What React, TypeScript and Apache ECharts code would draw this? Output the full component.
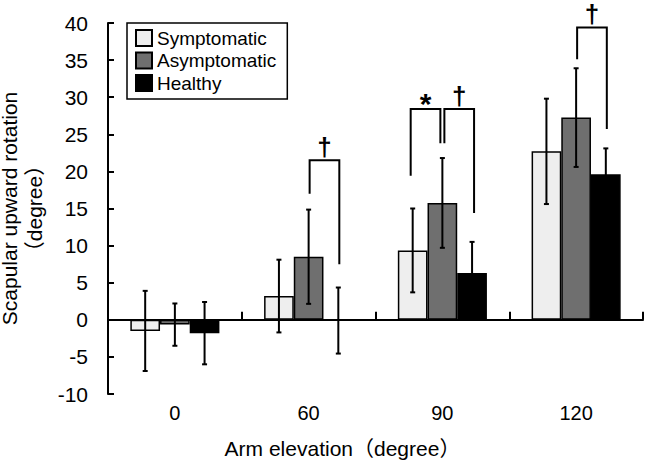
import React, { useEffect, useRef } from "react";
import * as echarts from "echarts";

const categories = ["0", "60", "90", "120"];
const seriesNames = ["Symptomatic", "Asymptomatic", "Healthy"];
const seriesColors = ["#eeeeee", "#6f6f6f", "#000000"];

const symptomaticMean = [-1.5, 3.2, 9.35, 22.7];
const symptomaticSD = [5.4, 4.9, 5.65, 7.1];
const asymptomaticMean = [-0.65, 8.5, 15.75, 27.25];
const asymptomaticSD = [2.85, 6.35, 6.05, 6.65];
const healthyMean = [-1.8, -0.1, 6.3, 19.6];
const healthySD = [4.2, 4.45, 4.2, 3.5];

const yTicksMin = -10;
const yTicksMax = 40;
const yTicksStep = 5;

// significance brackets (values in degrees)
const bracketCategory = [1, 2, 2, 3];
const bracketFrom = [1, 0, 1, 1];
const bracketTo = [2, 1, 2, 2];
const bracketLeftEnd = [17.0, 19.4, 23.8, 35.1];
const bracketRightEnd = [7.5, 23.8, 14.4, 25.7];
const bracketTop = [21.5, 28.4, 28.4, 39.4];
const bracketMark = ["†", "*", "†", "†"];

const FONT = "'Liberation Sans', Arial, 'Noto Sans CJK JP', sans-serif";
const BAR_FRAC = 0.222;

export default function App() {
  const ref = useRef<HTMLDivElement>(null);
  useEffect(() => {
    if (!ref.current) return;
    const chart = echarts.init(ref.current, null, { renderer: "svg" });
    const means = [symptomaticMean, asymptomaticMean, healthyMean];
    const sds = [symptomaticSD, asymptomaticSD, healthySD];

    const errData: number[][] = [];
    means.forEach((m, s) => {
      m.forEach((v, i) => {
        errData.push([i, v - sds[s][i], v + sds[s][i], s]);
      });
    });

    const bracketData = bracketCategory.map((c, k) => [
      c,
      bracketFrom[k],
      bracketTo[k],
      bracketLeftEnd[k],
      bracketRightEnd[k],
      bracketTop[k],
      k,
    ]);

    const option: any = {
      animation: false,
      textStyle: { fontFamily: FONT },
      grid: { left: 108, right: 4, top: 23, bottom: 70, containLabel: false, outerBoundsMode: "none" },
      legend: {
        orient: "vertical",
        left: 127,
        top: 23,
        data: seriesNames,
        itemWidth: 16,
        itemHeight: 16,
        itemGap: 3.5,
        itemTextGap: 6,
        padding: [5.5, 11, 6.5, 8],
        borderColor: "#000",
        borderWidth: 1.5,
        borderRadius: 0,
        icon: "rect",
        textStyle: { fontSize: 19, color: "#000", fontFamily: FONT },
      },
      xAxis: [
        {
          type: "category",
          data: categories,
          position: "bottom",
          axisLine: { show: true, onZero: true, lineStyle: { color: "#000", width: 2 } },
          axisTick: { show: true, inside: true, length: 8, lineStyle: { color: "#000", width: 2 } },
          axisLabel: { show: false },
          splitLine: { show: false },
        },
        {
          type: "category",
          data: categories,
          position: "bottom",
          axisLine: { show: false, onZero: false },
          axisTick: { show: false },
          axisLabel: { show: true, fontSize: 20, color: "#000", margin: 9, fontFamily: FONT },
          splitLine: { show: false },
          name: "Arm elevation（degree）",
          nameLocation: "middle",
          nameGap: 44,
          nameTextStyle: { fontSize: 21, color: "#000", fontFamily: FONT, padding: [0, 66, 0, 0] },
        },
      ],
      yAxis: {
        type: "value",
        min: yTicksMin,
        max: yTicksMax,
        interval: yTicksStep,
        axisLine: { show: true, onZero: false, lineStyle: { color: "#000", width: 2 } },
        axisTick: { show: true, inside: true, length: 6, lineStyle: { color: "#000", width: 2 } },
        axisLabel: { fontSize: 21, color: "#000", margin: 20, fontFamily: FONT },
        splitLine: { show: false },
        name: "Scapular upward rotation\n（degree）",
        nameLocation: "middle",
        nameGap: 57,
        nameTextStyle: { fontSize: 21, color: "#000", fontFamily: FONT, lineHeight: 25 },
      },
      series: [
        ...seriesNames.map((n, s) => ({
          name: n,
          type: "bar",
          xAxisIndex: 0,
          data: means[s],
          barWidth: `${BAR_FRAC * 100}%`,
          barGap: "0%",
          itemStyle: { color: seriesColors[s], borderColor: "#000", borderWidth: 1.5 },
          z: 2,
        })),
        {
          type: "custom",
          name: "error",
          xAxisIndex: 0,
          data: errData,
          z: 5,
          encode: { x: 0, y: [1, 2] },
          renderItem: (params: any, api: any) => {
            const cat = api.value(0);
            const lo = api.value(1);
            const hi = api.value(2);
            const s = api.value(3);
            const band = api.size([1, 0])[0];
            const bw = band * BAR_FRAC;
            const cx = api.coord([cat, 0])[0] + (s - 1) * bw;
            const yLo = api.coord([cat, lo])[1];
            const yHi = api.coord([cat, hi])[1];
            const st = { stroke: "#000", lineWidth: 2 };
            return {
              type: "group",
              children: [
                { type: "line", shape: { x1: cx, y1: yLo, x2: cx, y2: yHi }, style: st },
                { type: "line", shape: { x1: cx - 2.5, y1: yLo, x2: cx + 2.5, y2: yLo }, style: st },
                { type: "line", shape: { x1: cx - 2.5, y1: yHi, x2: cx + 2.5, y2: yHi }, style: st },
              ],
            };
          },
        },
        {
          type: "custom",
          name: "significance",
          xAxisIndex: 0,
          data: bracketData,
          z: 6,
          encode: { x: 0, y: 5 },
          renderItem: (params: any, api: any) => {
            const cat = api.value(0);
            const from = api.value(1);
            const to = api.value(2);
            const k = api.value(6);
            const band = api.size([1, 0])[0];
            const bw = band * BAR_FRAC;
            const base = api.coord([cat, 0])[0];
            const shared = bracketCategory.filter((c) => c === cat).length > 1;
            const shift = shared ? (from === 0 ? -2 : 2) : 1;
            const xl = base + (from - 1) * bw + shift;
            const xr = base + (to - 1) * bw + shift;
            const yl = api.coord([cat, api.value(3)])[1];
            const yr = api.coord([cat, api.value(4)])[1];
            const yt = api.coord([cat, api.value(5)])[1];
            const mark = bracketMark[k];
            const isStar = mark === "*";
            return {
              type: "group",
              children: [
                {
                  type: "polyline",
                  shape: { points: [[xl, yl], [xl, yt], [xr, yt], [xr, yr]] },
                  style: { stroke: "#000", lineWidth: 2, fill: "none" },
                },
                {
                  type: "text",
                  x: (xl + xr) / 2,
                  y: isStar ? yt - 6 : yt - 13,
                  style: {
                    text: mark,
                    fill: "#000",
                    font: isStar ? `bold 30px ${FONT}` : `bold 26px ${FONT}`,
                    textAlign: "center",
                    textVerticalAlign: "middle",
                  },
                },
              ],
            };
          },
        },
      ],
    };
    chart.setOption(option);
    return () => chart.dispose();
  }, []);
  return (
    <div
      ref={ref}
      style={{ position: "fixed", left: 0, top: 0, width: 647, height: 464, background: "#fff" }}
    />
  );
}
